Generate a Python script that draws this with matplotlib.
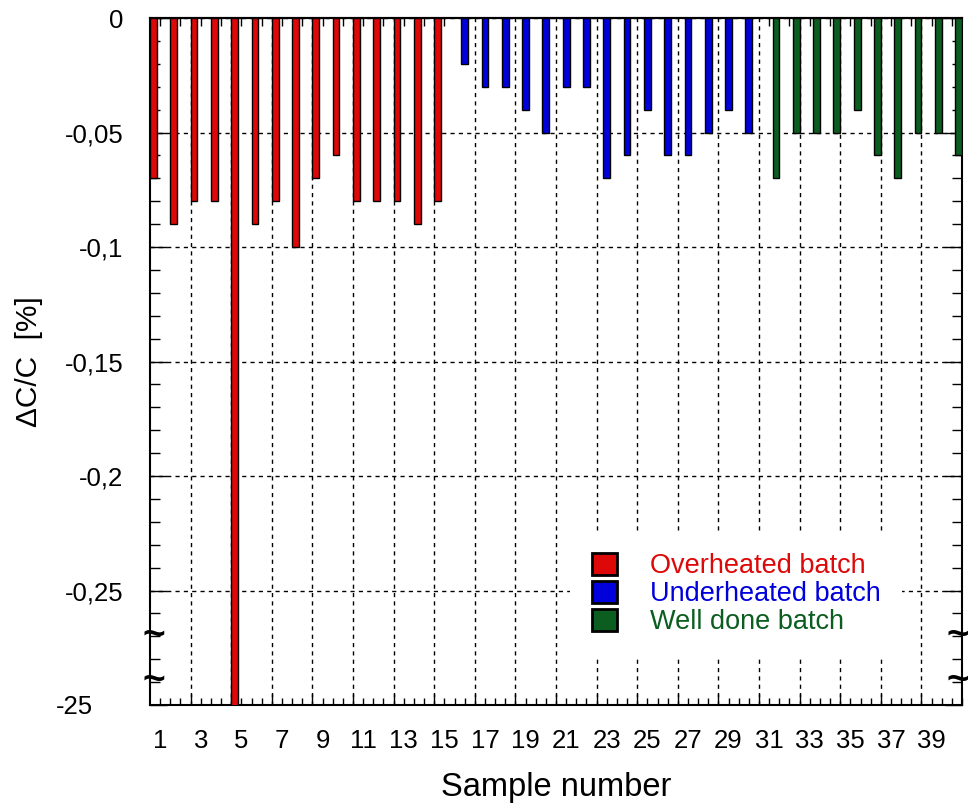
import numpy as np
import matplotlib.pyplot as plt
from matplotlib.patches import Patch
from matplotlib.transforms import ScaledTranslation
from matplotlib.ticker import FixedLocator, FuncFormatter

plt.rcParams['font.family'] = ['Liberation Sans', 'DejaVu Sans']

over_samples = list(range(1, 16))
over_vals = [-0.07, -0.09, -0.08, -0.08, -25, -0.09, -0.08, -0.1, -0.07, -0.06,
             -0.08, -0.08, -0.08, -0.09, -0.08]
under_samples = list(range(16, 31))
under_vals = [-0.02, -0.03, -0.03, -0.04, -0.05, -0.03, -0.03, -0.07, -0.06, -0.04,
              -0.06, -0.06, -0.05, -0.04, -0.05]
well_samples = list(range(31, 41))
well_vals = [-0.07, -0.05, -0.05, -0.05, -0.04, -0.06, -0.07, -0.05, -0.05, -0.06]

y_ticks = [0, -0.05, -0.1, -0.15, -0.2, -0.25, -0.3]
y_labels = ["0", "-0,05", "-0,1", "-0,15", "-0,2", "-0,25", "-25"]

red = "#dd0808"
blue = "#0000dd"
green = "#0b5e20"

fig = plt.figure(figsize=(9.68, 8.07), dpi=100)
ax = fig.add_axes([150/968, 102/807, 812/968, 687/807])

w = 1/3
ax.bar(np.array(over_samples) - w, over_vals, width=w, color=red, edgecolor="black", linewidth=1, zorder=3)
ax.bar(np.array(under_samples), under_vals, width=w, color=blue, edgecolor="black", linewidth=1, zorder=3)
ax.bar(np.array(well_samples) + w, well_vals, width=w, color=green, edgecolor="black", linewidth=1, zorder=3)

ax.set_xlim(0.5, 40.5)
ax.set_ylim(-0.3, 0)

# y axis
ax.set_yticks(y_ticks)
ax.set_yticklabels(y_labels, fontsize=18.5)
ax.yaxis.set_minor_locator(FixedLocator(np.arange(-0.29, 0, 0.01)))
ax.tick_params(axis="y", which="major", direction="in", length=12, width=1, right=True, pad=19)
ax.tick_params(axis="y", which="minor", direction="in", length=7, width=1, right=True)
lab = ax.get_yticklabels()[-1]
lab.set_transform(lab.get_transform() + ScaledTranslation(-0.31, 0, fig.dpi_scale_trans))

# x axis: grid at category borders, labels at odd sample numbers
ax.set_xticks(np.arange(2.5, 40, 2))
ax.set_xticklabels([])
ax.xaxis.set_minor_locator(FixedLocator(np.arange(1, 40.6, 0.5)))
ax.xaxis.set_minor_formatter(FuncFormatter(
    lambda v, p: str(int(v)) if v == int(v) and int(v) % 2 == 1 else ""))
ax.tick_params(axis="x", which="major", direction="in", length=8, width=1)
ax.tick_params(axis="x", which="minor", direction="in", length=5, width=1, labelsize=18.5, pad=17)

top = ax.secondary_xaxis("top")
top.set_xticks(np.arange(1, 41))
top.set_xticklabels([])
top.tick_params(direction="in", length=6, width=1)
top.spines["top"].set_linewidth(1.5)

ax.grid(True, which="major", color="black", linestyle=(0, (3, 3)), linewidth=1, zorder=1)
ax.set_axisbelow(True)

for s in ax.spines.values():
    s.set_linewidth(1.5)

# axis break marks
for xs in (0.005, 0.995):
    for yb in (-0.2697, -0.2897):
        ax.text(xs, yb, "~", transform=ax.get_yaxis_transform(), fontsize=28,
                fontweight="bold", ha="center", va="center", zorder=6, clip_on=False)

ax.set_xlabel("Sample number", fontsize=23.5, labelpad=14)
ax.set_ylabel("\u0394C/C  [%]", fontsize=21.5, labelpad=9)

handles = [Patch(facecolor=red, edgecolor="black", linewidth=2),
           Patch(facecolor=blue, edgecolor="black", linewidth=2),
           Patch(facecolor=green, edgecolor="black", linewidth=2)]
leg = ax.legend(handles, ["Overheated batch", "Underheated batch", "Well done batch"],
                loc="lower left", bbox_to_anchor=(420/812, 48/687), fontsize=19.5,
                frameon=True, framealpha=1, edgecolor="none", fancybox=False,
                handlelength=0.95, handleheight=0.87, handletextpad=1.2,
                labelspacing=0.06, borderpad=0.8, borderaxespad=0)
for t, c in zip(leg.get_texts(), [red, blue, green]):
    t.set_color(c)
leg.set_zorder(5)

fig.savefig("out.png", dpi=100)
